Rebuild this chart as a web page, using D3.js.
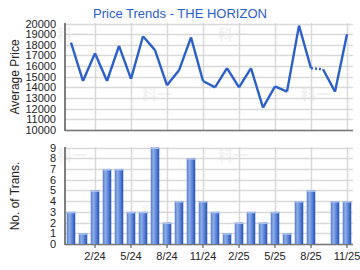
<!DOCTYPE html>
<html>
<head>
<meta charset="utf-8">
<script src="https://cdn.jsdelivr.net/npm/d3@7"></script>
<style>
body { margin: 0; background: #fff; }
svg { display: block; font-family: "Liberation Sans", Arial, sans-serif; }
</style>
</head>
<body>
<svg id="chart" width="360" height="270"></svg>
<script>
"use strict"

// months shown on the x axis (12/23 .. 11/25)
var months = ["12/23","1/24","2/24","3/24","4/24","5/24","6/24","7/24","8/24","9/24","10/24","11/24",
	"12/24","1/25","2/25","3/25","4/25","5/25","6/25","7/25","8/25","9/25","10/25","11/25"];
var priceValues = [18200,14600,17200,14600,17900,14800,18800,17500,14200,15600,18700,14600,
	14000,15800,14000,15800,12100,14100,13600,19800,15800,15700,13600,19000];
var transValues = [3,1,5,7,7,3,3,9,2,4,8,4,3,1,2,3,2,3,1,4,5,0,4,4];
var xTickLabels = ["2/24","5/24","8/24","11/24","2/25","5/25","8/25","11/25"];
var priceTicks = [10000,11000,12000,13000,14000,15000,16000,17000,18000,19000,20000];
var transTicks = [0,1,2,3,4,5,6,7,8,9];

var TITLE = "Price Trends - THE HORIZON";
var BLUE = "#2b60cc";
var GRID = "#d9d9d9";
var AXIS = "#777";

var svg = d3.select("#chart");

var defs = svg.append("defs");
var grad = defs.append("linearGradient").attr("id", "barGrad")
	.attr("x1", "0").attr("x2", "1").attr("y1", "0").attr("y2", "0");
grad.append("stop").attr("offset", "0%").attr("stop-color", "#4f78cc");
grad.append("stop").attr("offset", "30%").attr("stop-color", "#8eaee8");
grad.append("stop").attr("offset", "65%").attr("stop-color", "#5b84d8");
grad.append("stop").attr("offset", "100%").attr("stop-color", "#1e4db5");

var x = d3.scaleBand().domain(months).range([65, 353]);
function cx(m) { return x(m) + x.bandwidth() / 2; }

var yPrice = d3.scaleLinear().domain([10000, 20000]).range([130, 23.5]);
var yTrans = d3.scaleLinear().domain([0, 9]).range([244, 147.5]);

// watermark
var marks = [[72,40],[157,100],[233,40],[316,100],[72,161],[157,218],[233,161],[316,218]];
svg.append("g").selectAll("text").data(marks).enter().append("text")
	.attr("x", function(d) { return d[0]; })
	.attr("y", function(d) { return d[1]; })
	.attr("text-anchor", "middle")
	.attr("font-family", "Noto Sans CJK SC")
	.attr("font-weight", "bold")
	.attr("font-size", 15)
	.attr("fill", "#f2f2f2")
	.text("科一");

function drawFrame(y, ticks, top, bottom, fmt) {
	var g = svg.append("g");
	g.selectAll("line.h").data(ticks).enter().append("line")
		.attr("x1", 65).attr("x2", 353)
		.attr("y1", function(d) { return Math.round(y(d)) + 0.5; })
		.attr("y2", function(d) { return Math.round(y(d)) + 0.5; })
		.attr("stroke", GRID).attr("stroke-width", 1.5);
	g.selectAll("line.v").data(xTickLabels).enter().append("line")
		.attr("x1", function(d) { return Math.round(cx(d)) + 0.5; })
		.attr("x2", function(d) { return Math.round(cx(d)) + 0.5; })
		.attr("y1", top).attr("y2", bottom)
		.attr("stroke", GRID).attr("stroke-width", 1.5);
	var axis = d3.axisLeft(y).tickValues(ticks).tickSize(0).tickPadding(9).tickFormat(fmt);
	var ga = g.append("g").attr("transform", "translate(65,0)").call(axis);
	ga.select(".domain").remove();
	ga.selectAll("text").attr("font-size", 11).attr("fill", "#222")
		.attr("font-family", "Liberation Sans, Arial, sans-serif");
	g.append("line").attr("x1", 65).attr("x2", 65).attr("y1", top).attr("y2", bottom + 1)
		.attr("stroke", "#555").attr("stroke-width", 1.5);
	g.append("line").attr("x1", 65).attr("x2", 353).attr("y1", bottom + 0.5).attr("y2", bottom + 0.5)
		.attr("stroke", AXIS).attr("stroke-width", 1.5);
	return g;
}

// --- price chart ---
drawFrame(yPrice, priceTicks, 23, 130, d3.format("d"));

var pts = months.map(function(m, i) { return {m: m, v: priceValues[i], n: transValues[i]}; });
var segs = [];
for (var i = 1; i < pts.length; i++) {
	segs.push({a: pts[i - 1], b: pts[i], dotted: pts[i].n === 0});
}
var line = d3.line().x(function(d) { return cx(d.m); }).y(function(d) { return yPrice(d.v); });
svg.append("g").selectAll("path").data(segs).enter().append("path")
	.attr("d", function(s) { return line([s.a, s.b]); })
	.attr("fill", "none")
	.attr("stroke", BLUE)
	.attr("stroke-width", 2.4)
	.attr("stroke-linejoin", "round")
	.attr("stroke-dasharray", function(s) { return s.dotted ? "2,2" : null; });

svg.append("text").attr("x", 180).attr("y", 18).attr("text-anchor", "middle")
	.attr("font-size", 13).attr("fill", BLUE).text(TITLE);

svg.append("text").attr("transform", "translate(19,77) rotate(-90)")
	.attr("text-anchor", "middle").attr("font-size", 12).attr("fill", "#222")
	.text("Average Price");

// --- transactions chart ---
drawFrame(yTrans, transTicks, 147, 244, d3.format("d"));

var bw = 8.5;
svg.append("g").selectAll("rect").data(pts.filter(function(d) { return d.n > 0; })).enter().append("rect")
	.attr("x", function(d) { return cx(d.m) - bw / 2; })
	.attr("y", function(d) { return yTrans(d.n); })
	.attr("width", bw)
	.attr("height", function(d) { return 244 - yTrans(d.n); })
	.attr("fill", "url(#barGrad)");
svg.append("g").selectAll("rect").data(pts.filter(function(d) { return d.n > 0; })).enter().append("rect")
	.attr("x", function(d) { return cx(d.m) - bw / 2; })
	.attr("y", function(d) { return yTrans(d.n); })
	.attr("width", bw)
	.attr("height", 1.5)
	.attr("fill", "#a9c0ee");

var gx = svg.append("g").attr("transform", "translate(0,245)")
	.call(d3.axisBottom(x).tickValues(xTickLabels).tickSize(3).tickPadding(4));
gx.select(".domain").remove();
gx.selectAll("line").attr("stroke", "#444");
gx.selectAll("text").attr("font-size", 11).attr("fill", "#222")
	.attr("font-family", "Liberation Sans, Arial, sans-serif");

svg.append("text").attr("transform", "translate(19,196) rotate(-90)")
	.attr("text-anchor", "middle").attr("font-size", 12).attr("fill", "#222")
	.text("No. of Trans.");
</script>
</body>
</html>
